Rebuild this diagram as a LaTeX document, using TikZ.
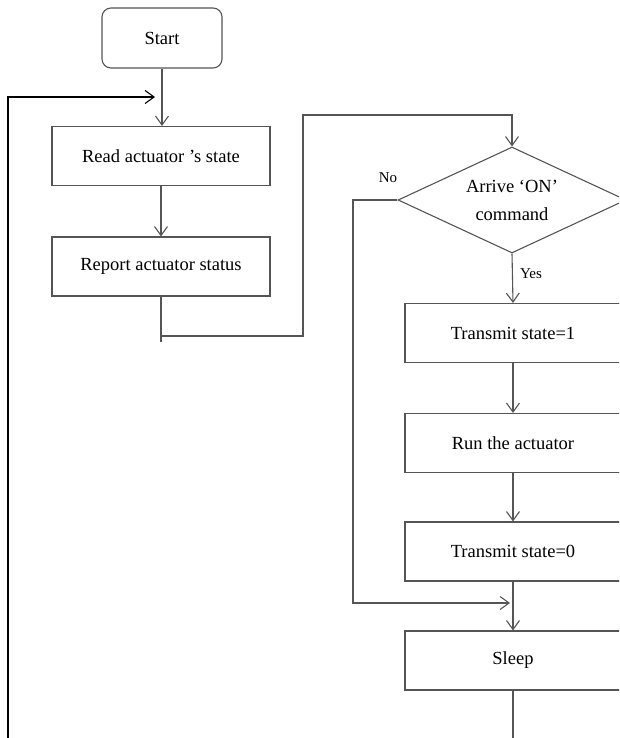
\documentclass[tikz,border=0pt]{standalone}
\usepackage{fontspec}
\setmainfont{Liberation Serif}
\usetikzlibrary{arrows.meta,shapes.geometric}
\definecolor{ln}{RGB}{85,85,85}
\begin{document}
\begin{tikzpicture}[x=1pt,y=-1pt,
  line/.style={draw=ln, line width=1.1pt},
  arr/.style={line, -{Straight Barb[length=9pt,width=13pt,line width=1.1pt]}},
  txt/.style={font=\fontsize{18.5}{28}\selectfont},
  box/.style={line, rectangle, minimum height=59pt, inner sep=0pt, txt},
  lbl/.style={font=\fontsize{15}{18}\selectfont, inner sep=0pt},
  dia/.style={line, diamond, aspect=2.15, minimum width=228pt, minimum height=106pt, inner sep=0pt, align=center, txt}]
\useasboundingbox (0,0) rectangle (619,738);
\clip (0,0) rectangle (619,738);
% nodes
\node[box, rounded corners=9pt, minimum width=120pt, minimum height=60pt] (start) at (162,38) {Start};
\node[box, minimum width=218pt] (read) at (161,156) {Read actuator ’s state};
\node[box, minimum width=218pt] (report) at (161,266.5) {Report actuator status};
\node[dia] (dec) at (512,200) {Arrive ‘ON’\\command};
\node[box, minimum width=216pt] (t1) at (513,333) {Transmit state=1};
\node[box, minimum width=216pt] (run) at (513,443) {Run the actuator};
\node[box, minimum width=216pt] (t0) at (513,551.5) {Transmit state=0};
\node[box, minimum width=216pt] (sleep) at (513,660.5) {Sleep};
\node[lbl] (no) at (388,178) {No};
\node[lbl] (yes) at (531,274) {Yes};
% coordinates
\coordinate (loopin) at (155,97);
\coordinate (j1) at (161,336);
\coordinate (j2) at (510,603);
\coordinate (botr) at (513,760);
\coordinate (botl) at (8,760);
% connectors
\draw[arr] (start.south) -- (start.south |- read.north);
\draw[arr] (read) -- (report);
\draw[line] (report.south) -- ++(0,45);
\draw[arr] (j1) -| (303,115) -| (dec.north);
\draw[arr] (dec.south) -- (t1.north);
\draw[arr] (t1) -- (run);
\draw[arr] (run) -- (t0);
\draw[arr] (t0) -- (sleep);
\draw[arr] (dec.west) -| (353,603) -- (j2);
\draw[line] (sleep.south) -- (botr);
\draw[arr, draw=black, line width=1.6pt] (botl) |- (loopin);
\end{tikzpicture}
\end{document}
